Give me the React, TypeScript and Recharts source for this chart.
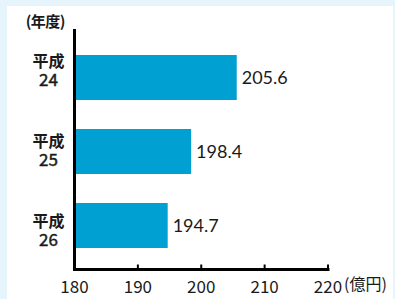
import React from 'react';
import { BarChart, Bar, XAxis, YAxis, LabelList, Label } from 'recharts';

const eraNames = ['平成', '平成', '平成'];
const fiscalYears = ['24', '25', '26'];
const amounts = [205.6, 198.4, 194.7];
const xTicks = [180, 190, 200, 210, 220];
const xDomain = [180, 220];
const yUnit = '(年度)';
const xUnit = '(億円)';

const data = fiscalYears.map((y, i) => ({
  name: eraNames[i] + y,
  value: amounts[i],
}));

const CJK = '"Noto Sans CJK JP", "Noto Sans", sans-serif';
const BAR_COLOR = '#00a0d2';
const TEXT = '#1a1a1a';

function CategoryTick(props: any) {
  const { x, y, index } = props;
  return (
    <g>
      <text x={x} y={y - 2.5} textAnchor="middle" fontFamily={CJK} fontSize={16} fontWeight={700} fill={TEXT}>
        {eraNames[index]}
      </text>
      <text x={x} y={y + 17} textAnchor="middle" fontFamily={CJK} fontSize={17} fontWeight={400} fill={TEXT} stroke={TEXT} strokeWidth={0.45}>
        {fiscalYears[index]}
      </text>
    </g>
  );
}

function YUnitLabel(props: any) {
  const vb = props.viewBox || { x: 0, y: 0, width: 0 };
  return (
    <text x={vb.x + vb.width - 9.5} y={vb.y - 2} textAnchor="end" fontFamily={CJK} fontSize={15} fontWeight={700} fill={TEXT} letterSpacing={-0.5}>
      {yUnit}
    </text>
  );
}

export default function App() {
  return (
    <div style={{ position: 'absolute', left: 0, top: 0, width: 395, height: 299, background: '#e6f4fb', overflow: 'hidden' }}>
      <div style={{ position: 'absolute', left: 7, top: 6, width: 386, height: 293, background: '#ffffff' }} />
      <div style={{ position: 'absolute', left: 0, top: 0 }}>
        <BarChart
          width={395}
          height={299}
          data={data}
          layout="vertical"
          margin={{ top: 29, right: 67, bottom: 0, left: 0 }}
        >
          <XAxis
            type="number"
            domain={xDomain}
            ticks={xTicks}
            interval={0}
            allowDataOverflow
            height={29.5}
            axisLine={{ stroke: '#000', strokeWidth: 3, strokeLinecap: 'square' }}
            tickLine={{ stroke: '#000', strokeWidth: 2 }}
            tickSize={-5}
            tickMargin={16}
            tick={{ fill: TEXT, fontSize: 17, fontFamily: CJK }}
          >
            <Label value={xUnit} position="right" offset={16} fill={TEXT} fontSize={16} fontFamily={CJK} />
          </XAxis>
          <YAxis
            yAxisId="bars"
            type="category"
            dataKey="name"
            hide
            width={0}
            padding={{ top: 11, bottom: 7.5 }}
          />
          <YAxis
            yAxisId="labels"
            type="category"
            dataKey="name"
            width={74.5}
            axisLine={{ stroke: '#000', strokeWidth: 3 }}
            tickLine={false}
            tickSize={0}
            tickMargin={26}
            tick={<CategoryTick />}
            label={<YUnitLabel />}
          />
          <Bar yAxisId="bars" dataKey="value" fill={BAR_COLOR} barSize={45} isAnimationActive={false}>
            <LabelList dataKey="value" position="right" offset={5} fill={TEXT} fontSize={18} fontFamily="Lato" />
          </Bar>
        </BarChart>
      </div>
    </div>
  );
}
